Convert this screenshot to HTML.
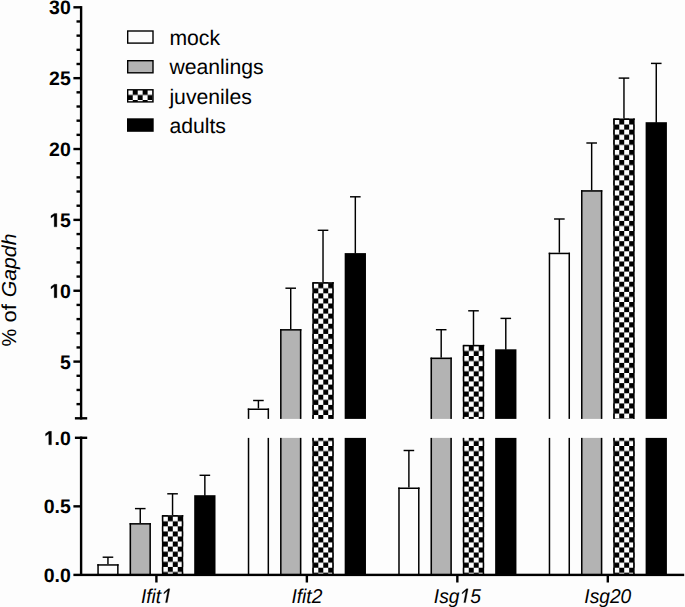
<!DOCTYPE html>
<html><head><meta charset="utf-8"><style>
html,body{margin:0;padding:0;background:#fdfdfd;}
svg{display:block;}
text{font-family:"Liberation Sans",sans-serif;fill:#000;text-rendering:geometricPrecision;}
.tk{font-size:19.5px;font-weight:bold;text-anchor:end;}
.xl{font-size:20px;font-style:italic;text-anchor:middle;}
.yt{font-size:21.2px;font-style:italic;}
.lg{font-size:21.2px;}
</style></head><body>
<svg width="685" height="607" viewBox="0 0 685 607">
<defs><pattern id="ck1" patternUnits="userSpaceOnUse" x="162.90" y="516.20" width="9.9" height="10.14"><rect width="9.9" height="10.14" fill="#fdfdfd"/><rect x="4.95" y="0" width="4.95" height="5.07" fill="#000"/><rect x="0" y="5.07" width="4.95" height="5.07" fill="#000"/></pattern><pattern id="ck2" patternUnits="userSpaceOnUse" x="313.37" y="283.20" width="9.9" height="10.14"><rect width="9.9" height="10.14" fill="#fdfdfd"/><rect x="4.95" y="0" width="4.95" height="5.07" fill="#000"/><rect x="0" y="5.07" width="4.95" height="5.07" fill="#000"/></pattern><pattern id="ck3" patternUnits="userSpaceOnUse" x="313.37" y="435.90" width="9.9" height="10.14"><rect width="9.9" height="10.14" fill="#fdfdfd"/><rect x="4.95" y="0" width="4.95" height="5.07" fill="#000"/><rect x="0" y="5.07" width="4.95" height="5.07" fill="#000"/></pattern><pattern id="ck4" patternUnits="userSpaceOnUse" x="463.84" y="345.90" width="9.9" height="10.14"><rect width="9.9" height="10.14" fill="#fdfdfd"/><rect x="4.95" y="0" width="4.95" height="5.07" fill="#000"/><rect x="0" y="5.07" width="4.95" height="5.07" fill="#000"/></pattern><pattern id="ck5" patternUnits="userSpaceOnUse" x="463.84" y="435.90" width="9.9" height="10.14"><rect width="9.9" height="10.14" fill="#fdfdfd"/><rect x="4.95" y="0" width="4.95" height="5.07" fill="#000"/><rect x="0" y="5.07" width="4.95" height="5.07" fill="#000"/></pattern><pattern id="ck6" patternUnits="userSpaceOnUse" x="614.31" y="119.50" width="9.9" height="10.14"><rect width="9.9" height="10.14" fill="#fdfdfd"/><rect x="4.95" y="0" width="4.95" height="5.07" fill="#000"/><rect x="0" y="5.07" width="4.95" height="5.07" fill="#000"/></pattern><pattern id="ck7" patternUnits="userSpaceOnUse" x="614.31" y="435.90" width="9.9" height="10.14"><rect width="9.9" height="10.14" fill="#fdfdfd"/><rect x="4.95" y="0" width="4.95" height="5.07" fill="#000"/><rect x="0" y="5.07" width="4.95" height="5.07" fill="#000"/></pattern><pattern id="ck8" patternUnits="userSpaceOnUse" x="127.80" y="89.90" width="9.9" height="10.14"><rect width="9.9" height="10.14" fill="#fdfdfd"/><rect x="4.95" y="0" width="4.95" height="5.07" fill="#000"/><rect x="0" y="5.07" width="4.95" height="5.07" fill="#000"/></pattern></defs>
<rect width="685" height="607" fill="#fdfdfd"/>
<line x1="107.95" y1="557.20" x2="107.95" y2="564.70" stroke="#000" stroke-width="1.45"/>
<line x1="102.65" y1="557.20" x2="113.25" y2="557.20" stroke="#000" stroke-width="1.45"/>
<rect x="97.30" y="564.20" width="21.30" height="10.70" fill="#fdfdfd"/>
<rect x="97.30" y="564.20" width="1.5" height="10.70" fill="#000"/>
<rect x="117.10" y="564.20" width="1.5" height="10.70" fill="#000"/>
<rect x="97.30" y="564.20" width="21.30" height="1.5" fill="#000"/>
<line x1="140.25" y1="508.60" x2="140.25" y2="523.60" stroke="#000" stroke-width="1.45"/>
<line x1="134.95" y1="508.60" x2="145.55" y2="508.60" stroke="#000" stroke-width="1.45"/>
<rect x="129.60" y="523.10" width="21.30" height="51.80" fill="#b3b3b3"/>
<rect x="129.60" y="523.10" width="1.5" height="51.80" fill="#000"/>
<rect x="149.40" y="523.10" width="1.5" height="51.80" fill="#000"/>
<rect x="129.60" y="523.10" width="21.30" height="1.5" fill="#000"/>
<line x1="172.55" y1="493.80" x2="172.55" y2="515.70" stroke="#000" stroke-width="1.45"/>
<line x1="167.25" y1="493.80" x2="177.85" y2="493.80" stroke="#000" stroke-width="1.45"/>
<rect x="161.90" y="515.20" width="21.30" height="59.70" fill="url(#ck1)"/>
<rect x="161.90" y="515.20" width="1.5" height="59.70" fill="#000"/>
<rect x="181.70" y="515.20" width="1.5" height="59.70" fill="#000"/>
<rect x="161.90" y="515.20" width="21.30" height="1.5" fill="#000"/>
<line x1="204.85" y1="475.30" x2="204.85" y2="495.70" stroke="#000" stroke-width="1.45"/>
<line x1="199.55" y1="475.30" x2="210.15" y2="475.30" stroke="#000" stroke-width="1.45"/>
<rect x="194.20" y="495.20" width="21.30" height="79.70" fill="#000"/>
<line x1="258.42" y1="400.50" x2="258.42" y2="409.00" stroke="#000" stroke-width="1.45"/>
<line x1="253.12" y1="400.50" x2="263.72" y2="400.50" stroke="#000" stroke-width="1.45"/>
<rect x="247.77" y="408.50" width="21.30" height="10.40" fill="#fdfdfd"/>
<rect x="247.77" y="408.50" width="1.5" height="10.40" fill="#000"/>
<rect x="267.57" y="408.50" width="1.5" height="10.40" fill="#000"/>
<rect x="247.77" y="408.50" width="21.30" height="1.5" fill="#000"/>
<rect x="247.77" y="437.90" width="21.30" height="137.00" fill="#fdfdfd"/>
<rect x="247.77" y="437.90" width="1.5" height="137.00" fill="#000"/>
<rect x="267.57" y="437.90" width="1.5" height="137.00" fill="#000"/>
<line x1="290.72" y1="288.20" x2="290.72" y2="329.60" stroke="#000" stroke-width="1.45"/>
<line x1="285.42" y1="288.20" x2="296.02" y2="288.20" stroke="#000" stroke-width="1.45"/>
<rect x="280.07" y="329.10" width="21.30" height="89.80" fill="#b3b3b3"/>
<rect x="280.07" y="329.10" width="1.5" height="89.80" fill="#000"/>
<rect x="299.87" y="329.10" width="1.5" height="89.80" fill="#000"/>
<rect x="280.07" y="329.10" width="21.30" height="1.5" fill="#000"/>
<rect x="280.07" y="437.90" width="21.30" height="137.00" fill="#b3b3b3"/>
<rect x="280.07" y="437.90" width="1.5" height="137.00" fill="#000"/>
<rect x="299.87" y="437.90" width="1.5" height="137.00" fill="#000"/>
<line x1="323.02" y1="230.30" x2="323.02" y2="282.70" stroke="#000" stroke-width="1.45"/>
<line x1="317.72" y1="230.30" x2="328.32" y2="230.30" stroke="#000" stroke-width="1.45"/>
<rect x="312.37" y="282.20" width="21.30" height="136.70" fill="url(#ck2)"/>
<rect x="312.37" y="282.20" width="1.5" height="136.70" fill="#000"/>
<rect x="332.17" y="282.20" width="1.5" height="136.70" fill="#000"/>
<rect x="312.37" y="282.20" width="21.30" height="1.5" fill="#000"/>
<rect x="312.37" y="437.90" width="21.30" height="137.00" fill="url(#ck3)"/>
<rect x="312.37" y="437.90" width="1.5" height="137.00" fill="#000"/>
<rect x="332.17" y="437.90" width="1.5" height="137.00" fill="#000"/>
<line x1="355.32" y1="196.80" x2="355.32" y2="253.60" stroke="#000" stroke-width="1.45"/>
<line x1="350.02" y1="196.80" x2="360.62" y2="196.80" stroke="#000" stroke-width="1.45"/>
<rect x="344.67" y="253.10" width="21.30" height="165.80" fill="#000"/>
<rect x="344.67" y="437.90" width="21.30" height="137.00" fill="#000"/>
<line x1="408.89" y1="450.50" x2="408.89" y2="488.00" stroke="#000" stroke-width="1.45"/>
<line x1="403.59" y1="450.50" x2="414.19" y2="450.50" stroke="#000" stroke-width="1.45"/>
<rect x="398.24" y="487.50" width="21.30" height="87.40" fill="#fdfdfd"/>
<rect x="398.24" y="487.50" width="1.5" height="87.40" fill="#000"/>
<rect x="418.04" y="487.50" width="1.5" height="87.40" fill="#000"/>
<rect x="398.24" y="487.50" width="21.30" height="1.5" fill="#000"/>
<line x1="441.19" y1="329.70" x2="441.19" y2="358.10" stroke="#000" stroke-width="1.45"/>
<line x1="435.89" y1="329.70" x2="446.49" y2="329.70" stroke="#000" stroke-width="1.45"/>
<rect x="430.54" y="357.60" width="21.30" height="61.30" fill="#b3b3b3"/>
<rect x="430.54" y="357.60" width="1.5" height="61.30" fill="#000"/>
<rect x="450.34" y="357.60" width="1.5" height="61.30" fill="#000"/>
<rect x="430.54" y="357.60" width="21.30" height="1.5" fill="#000"/>
<rect x="430.54" y="437.90" width="21.30" height="137.00" fill="#b3b3b3"/>
<rect x="430.54" y="437.90" width="1.5" height="137.00" fill="#000"/>
<rect x="450.34" y="437.90" width="1.5" height="137.00" fill="#000"/>
<line x1="473.49" y1="310.80" x2="473.49" y2="345.40" stroke="#000" stroke-width="1.45"/>
<line x1="468.19" y1="310.80" x2="478.79" y2="310.80" stroke="#000" stroke-width="1.45"/>
<rect x="462.84" y="344.90" width="21.30" height="74.00" fill="url(#ck4)"/>
<rect x="462.84" y="344.90" width="1.5" height="74.00" fill="#000"/>
<rect x="482.64" y="344.90" width="1.5" height="74.00" fill="#000"/>
<rect x="462.84" y="344.90" width="21.30" height="1.5" fill="#000"/>
<rect x="462.84" y="437.90" width="21.30" height="137.00" fill="url(#ck5)"/>
<rect x="462.84" y="437.90" width="1.5" height="137.00" fill="#000"/>
<rect x="482.64" y="437.90" width="1.5" height="137.00" fill="#000"/>
<line x1="505.79" y1="318.40" x2="505.79" y2="349.80" stroke="#000" stroke-width="1.45"/>
<line x1="500.49" y1="318.40" x2="511.09" y2="318.40" stroke="#000" stroke-width="1.45"/>
<rect x="495.14" y="349.30" width="21.30" height="69.60" fill="#000"/>
<rect x="495.14" y="437.90" width="21.30" height="137.00" fill="#000"/>
<line x1="559.36" y1="219.00" x2="559.36" y2="253.20" stroke="#000" stroke-width="1.45"/>
<line x1="554.06" y1="219.00" x2="564.66" y2="219.00" stroke="#000" stroke-width="1.45"/>
<rect x="548.71" y="252.70" width="21.30" height="166.20" fill="#fdfdfd"/>
<rect x="548.71" y="252.70" width="1.5" height="166.20" fill="#000"/>
<rect x="568.51" y="252.70" width="1.5" height="166.20" fill="#000"/>
<rect x="548.71" y="252.70" width="21.30" height="1.5" fill="#000"/>
<rect x="548.71" y="437.90" width="21.30" height="137.00" fill="#fdfdfd"/>
<rect x="548.71" y="437.90" width="1.5" height="137.00" fill="#000"/>
<rect x="568.51" y="437.90" width="1.5" height="137.00" fill="#000"/>
<line x1="591.66" y1="143.00" x2="591.66" y2="190.70" stroke="#000" stroke-width="1.45"/>
<line x1="586.36" y1="143.00" x2="596.96" y2="143.00" stroke="#000" stroke-width="1.45"/>
<rect x="581.01" y="190.20" width="21.30" height="228.70" fill="#b3b3b3"/>
<rect x="581.01" y="190.20" width="1.5" height="228.70" fill="#000"/>
<rect x="600.81" y="190.20" width="1.5" height="228.70" fill="#000"/>
<rect x="581.01" y="190.20" width="21.30" height="1.5" fill="#000"/>
<rect x="581.01" y="437.90" width="21.30" height="137.00" fill="#b3b3b3"/>
<rect x="581.01" y="437.90" width="1.5" height="137.00" fill="#000"/>
<rect x="600.81" y="437.90" width="1.5" height="137.00" fill="#000"/>
<line x1="623.96" y1="78.10" x2="623.96" y2="119.00" stroke="#000" stroke-width="1.45"/>
<line x1="618.66" y1="78.10" x2="629.26" y2="78.10" stroke="#000" stroke-width="1.45"/>
<rect x="613.31" y="118.50" width="21.30" height="300.40" fill="url(#ck6)"/>
<rect x="613.31" y="118.50" width="1.5" height="300.40" fill="#000"/>
<rect x="633.11" y="118.50" width="1.5" height="300.40" fill="#000"/>
<rect x="613.31" y="118.50" width="21.30" height="1.5" fill="#000"/>
<rect x="613.31" y="437.90" width="21.30" height="137.00" fill="url(#ck7)"/>
<rect x="613.31" y="437.90" width="1.5" height="137.00" fill="#000"/>
<rect x="633.11" y="437.90" width="1.5" height="137.00" fill="#000"/>
<line x1="656.26" y1="63.40" x2="656.26" y2="122.70" stroke="#000" stroke-width="1.45"/>
<line x1="650.96" y1="63.40" x2="661.56" y2="63.40" stroke="#000" stroke-width="1.45"/>
<rect x="645.61" y="122.20" width="21.30" height="296.70" fill="#000"/>
<rect x="645.61" y="437.90" width="21.30" height="137.00" fill="#000"/>
<rect x="79.90" y="6.10" width="2.4" height="413.40" fill="#000"/>
<rect x="79.90" y="436.60" width="2.4" height="138.30" fill="#000"/>
<rect x="74.9" y="417.10" width="12.3" height="2.4" fill="#000"/>
<rect x="74.9" y="436.60" width="12.3" height="2.4" fill="#000"/>
<rect x="73.4" y="6.10" width="7.70" height="2.4" fill="#000"/>
<rect x="73.4" y="76.96" width="7.70" height="2.4" fill="#000"/>
<rect x="73.4" y="147.82" width="7.70" height="2.4" fill="#000"/>
<rect x="73.4" y="218.69" width="7.70" height="2.4" fill="#000"/>
<rect x="73.4" y="289.55" width="7.70" height="2.4" fill="#000"/>
<rect x="73.4" y="360.41" width="7.70" height="2.4" fill="#000"/>
<rect x="76.5" y="402.93" width="4.60" height="2.4" fill="#000"/>
<rect x="76.5" y="388.76" width="4.60" height="2.4" fill="#000"/>
<rect x="76.5" y="374.58" width="4.60" height="2.4" fill="#000"/>
<rect x="76.5" y="346.24" width="4.60" height="2.4" fill="#000"/>
<rect x="76.5" y="332.07" width="4.60" height="2.4" fill="#000"/>
<rect x="76.5" y="317.89" width="4.60" height="2.4" fill="#000"/>
<rect x="76.5" y="303.72" width="4.60" height="2.4" fill="#000"/>
<rect x="76.5" y="275.38" width="4.60" height="2.4" fill="#000"/>
<rect x="76.5" y="261.20" width="4.60" height="2.4" fill="#000"/>
<rect x="76.5" y="247.03" width="4.60" height="2.4" fill="#000"/>
<rect x="76.5" y="232.86" width="4.60" height="2.4" fill="#000"/>
<rect x="76.5" y="204.51" width="4.60" height="2.4" fill="#000"/>
<rect x="76.5" y="190.34" width="4.60" height="2.4" fill="#000"/>
<rect x="76.5" y="176.17" width="4.60" height="2.4" fill="#000"/>
<rect x="76.5" y="162.00" width="4.60" height="2.4" fill="#000"/>
<rect x="76.5" y="133.65" width="4.60" height="2.4" fill="#000"/>
<rect x="76.5" y="119.48" width="4.60" height="2.4" fill="#000"/>
<rect x="76.5" y="105.31" width="4.60" height="2.4" fill="#000"/>
<rect x="76.5" y="91.13" width="4.60" height="2.4" fill="#000"/>
<rect x="76.5" y="62.79" width="4.60" height="2.4" fill="#000"/>
<rect x="76.5" y="48.62" width="4.60" height="2.4" fill="#000"/>
<rect x="76.5" y="34.44" width="4.60" height="2.4" fill="#000"/>
<rect x="76.5" y="20.27" width="4.60" height="2.4" fill="#000"/>
<rect x="73.4" y="505.15" width="7.70" height="2.4" fill="#000"/>
<rect x="73.4" y="573.70" width="610.80" height="2.4" fill="#000"/>
<rect x="155.20" y="574.90" width="2.4" height="7.6" fill="#000"/>
<rect x="305.67" y="574.90" width="2.4" height="7.6" fill="#000"/>
<rect x="456.14" y="574.90" width="2.4" height="7.6" fill="#000"/>
<rect x="606.61" y="574.90" width="2.4" height="7.6" fill="#000"/>
<text x="70.8" y="14.28" style="font-size:19.5px;font-weight:bold;text-anchor:end">30</text>
<text x="70.8" y="85.14" style="font-size:19.5px;font-weight:bold;text-anchor:end">25</text>
<text x="70.8" y="156.01" style="font-size:19.5px;font-weight:bold;text-anchor:end">20</text>
<text x="70.8" y="226.87" style="font-size:19.5px;font-weight:bold;text-anchor:end"><tspan fill="transparent">1</tspan>5</text><path d="M54.19 226.87 L54.19 215.73 L50.97 218.02 L50.97 215.78 L54.33 213.45 L56.86 213.45 L56.86 226.87 Z" stroke="#000" stroke-width="0.3"/>
<text x="70.8" y="297.73" style="font-size:19.5px;font-weight:bold;text-anchor:end"><tspan fill="transparent">1</tspan>0</text><path d="M54.19 297.73 L54.19 286.59 L50.97 288.88 L50.97 286.64 L54.33 284.31 L56.86 284.31 L56.86 297.73 Z" stroke="#000" stroke-width="0.3"/>
<text x="70.8" y="368.59" style="font-size:19.5px;font-weight:bold;text-anchor:end">5</text>
<text x="70.8" y="444.78" style="font-size:19.5px;font-weight:bold;text-anchor:end"><tspan fill="transparent">1</tspan>.0</text><path d="M48.77 444.78 L48.77 433.64 L45.55 435.93 L45.55 433.69 L48.91 431.36 L51.44 431.36 L51.44 444.78 Z" stroke="#000" stroke-width="0.3"/>
<text x="70.8" y="513.33" style="font-size:19.5px;font-weight:bold;text-anchor:end">0.5</text>
<text x="70.8" y="581.88" style="font-size:19.5px;font-weight:bold;text-anchor:end">0.0</text>
<text transform="translate(156.40 602.6) scale(0.96 1)" x="0" y="0" style="font-size:20px;font-style:italic;text-anchor:middle">Ifit<tspan fill="transparent">1</tspan></text><path transform="translate(156.40 602.6) scale(0.96 1)" d="M9.51 0.00 L11.83 -11.94 L7.68 -8.59 L8.02 -10.35 L12.33 -13.76 L13.95 -13.76 L11.27 0.00 Z" stroke="#000" stroke-width="0.3"/>
<text transform="translate(306.87 602.6) scale(0.96 1)" x="0" y="0" style="font-size:20px;font-style:italic;text-anchor:middle">Ifit2</text>
<text transform="translate(457.34 602.6) scale(0.96 1)" x="0" y="0" style="font-size:20px;font-style:italic;text-anchor:middle">Isg<tspan fill="transparent">1</tspan>5</text><path transform="translate(457.34 602.6) scale(0.96 1)" d="M6.73 0.00 L9.05 -11.94 L4.90 -8.59 L5.24 -10.35 L9.55 -13.76 L11.17 -13.76 L8.50 0.00 Z" stroke="#000" stroke-width="0.3"/>
<text transform="translate(607.81 602.6) scale(0.96 1)" x="0" y="0" style="font-size:20px;font-style:italic;text-anchor:middle">Isg20</text>
<text transform="translate(15.9 346.6) scale(0.95 1) rotate(-90) scale(0.94 1)" x="0" y="0" style="font-size:21.2px;text-anchor:start">%</text>
<text transform="translate(15.9 304.2) scale(0.95 1) rotate(-90) scale(1.04 1)" x="0" y="0" style="font-size:21.2px;text-anchor:end">of</text>
<text transform="translate(15.9 297.2) scale(0.95 1) rotate(-90)" x="0" y="0" style="font-size:21.2px;font-style:italic;text-anchor:start">Gapdh</text>
<rect x="127.7" y="31.0" width="25.3" height="12.1" fill="#fdfdfd" stroke="#000" stroke-width="1.4"/>
<text x="169.4" y="44.5" style="font-size:21.2px;text-anchor:start">mock</text>
<rect x="127.7" y="60.7" width="25.3" height="12.1" fill="#b3b3b3" stroke="#000" stroke-width="1.4"/>
<text x="169.4" y="73.8" style="font-size:21.2px;text-anchor:start">weanlings</text>
<rect x="127.7" y="89.8" width="25.3" height="12.1" fill="url(#ck8)" stroke="#000" stroke-width="1.4"/>
<text x="169.4" y="103.5" style="font-size:21.2px;text-anchor:start">juveniles</text>
<rect x="127.0" y="118.3" width="26.7" height="13.5" fill="#000"/>
<text x="169.4" y="132.7" style="font-size:21.2px;text-anchor:start">adults</text>
</svg>
</body></html>
